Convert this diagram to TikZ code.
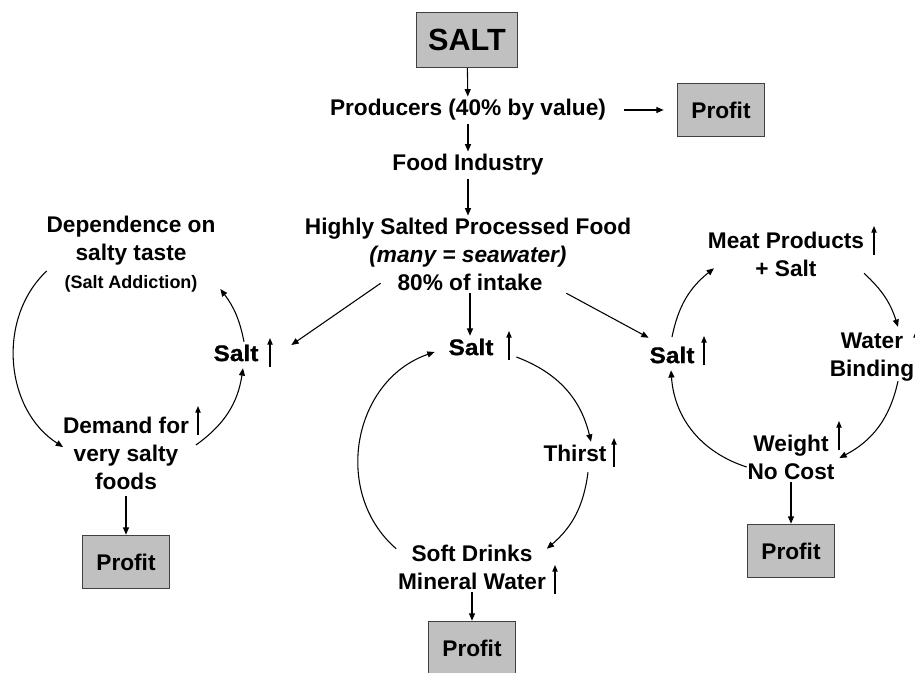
\documentclass[tikz,border=0pt]{standalone}
\usepackage{fontspec}
\setmainfont{Liberation Sans}
\newfontfamily\heavyfont[FakeBold=0.8,FakeStretch=1.08]{Liberation Sans Bold}
\usetikzlibrary{arrows.meta}
\definecolor{boxgray}{RGB}{192,192,192}
\definecolor{boxedge}{RGB}{64,64,64}

\begin{document}
\begin{tikzpicture}[x=0.75pt,y=0.75pt,
  >={Triangle[length=5.5pt,width=4.5pt]},
  every node/.style={font=\fontsize{17}{21}\selectfont\bfseries,inner sep=2pt,align=center},
  box/.style={draw=boxedge,line width=1pt,fill=boxgray,minimum width=65pt,minimum height=40pt},
  salt/.style={font=\fontsize{17}{21}\selectfont\heavyfont},
  flow/.style={->,line width=0.8pt},
  rise/.style={-{Triangle[length=5pt,width=4pt]},line width=0.8pt}]
  \useasboundingbox (0,0) rectangle (915,-672);
  \clip (0,0) rectangle (915,-672);

  % main chain
  \node[box,font=\fontsize{23}{28}\selectfont\bfseries,minimum width=76pt,minimum height=41pt] (salt) at (467,-40) {SALT};
  \node (prod) at (468,-110) {Producers (40\% by value)};
  \node[box] (profT) at (721,-110) {Profit};
  \node (food) at (468,-165) {Food Industry};
  \node (hsp) at (468,-243) {Highly Salted Processed Food\\\textit{(many = seawater)}};
  \node (intake) at (470,-282) {80\% of intake};

  \draw[flow] (salt) -- (prod);
  \draw[flow,shorten <=11pt,shorten >=10pt] (prod) -- (profT);
  \draw[flow] (prod) -- (food);
  \draw[flow] (food) -- (hsp);

  % left loop
  \node (dep) at (131,-254) {Dependence on\\salty taste\\{\fontsize{13.5}{15}\selectfont(Salt Addiction)}};
  \node[salt] (saltL) at (236,-353) {Salt};
  \node (demand) at (126,-453) {Demand for\\very salty\\foods};
  \node[box] (profL) at (126,-562) {Profit};

  \draw[flow] ([shift={(-14,10)}]intake.south west) -- ([shift={(30,8)}]saltL.east);
  \draw[flow] ([xshift=6]saltL.north) to[bend right=13] ([shift={(2,6)}]dep.south east);
  \draw[flow] ([shift={(3,-17)}]dep.west) to[bend right=52] ([shift={(3,6)}]demand.west);
  \draw[flow] ([shift={(4,8)}]demand.east) to[bend right=23] ([shift={(7,-4)}]saltL.south);
  \draw[flow,shorten <=3pt] (demand.south) -- (profL.north);

  % middle loop
  \node[salt] (saltC) at (471,-347) {Salt};
  \node (thirst) at (575,-453) {Thirst};
  \node (soft) at (472,-567) {Soft Drinks\\Mineral Water};
  \node[box] (profC) at (472,-648) {Profit};

  \draw[flow] (intake.south) -- (intake.south |- saltC.north);
  \draw[flow] ([shift={(20,-10)}]saltC.east) to[bend left=28] ([xshift=12]thirst.north);
  \draw[flow] ([shift={(13,-8)}]thirst.south) to[bend left=21] ([shift={(-2,-7)}]soft.north east);
  \draw[flow] ([shift={(1,-7)}]soft.north west) to[bend left=60,looseness=1.1] ([shift={(-11,-5)}]saltC.west);
  \draw[flow] (soft.south) -- (profC.north);

  % right loop
  \node (meat) at (786,-254) {Meat Products\\+ Salt};
  \node[salt] (saltR) at (672,-355) {Salt};
  \node (water) at (872,-357) {Water\\Binding};
  \node (weight) at (791,-457) {Weight\\No Cost};
  \node[box] (profR) at (791,-551) {Profit};

  \draw[flow] ([shift={(21,0)}]intake.south east) -- ([shift={(2,6)}]saltR.north west);
  \draw[flow] ([yshift=5]saltR.north) to[bend left=20] ([shift={(9,11)}]meat.south west);
  \draw[flow] ([shift={(-3,6)}]meat.south east) to[bend left=15] ([shift={(26,3)}]water.north);
  \draw[flow] ([shift={(26,3)}]water.south) to[bend left=25] ([shift={(2,-1)}]weight.east);
  \draw[flow] ([shift={(2,-10)}]weight.west) to[bend left=34] ([shift={(-1,-4)}]saltR.south);
  \draw[flow] (weight.south) -- (profR.north);

  % rising marks
  \foreach \x/\y in {270/367,198/435,509/360,614/467,555/594,874/255,704/365,839/450,916/360}
    \draw[rise] (\x,-\y) -- ++(0,29);
\end{tikzpicture}
\end{document}
